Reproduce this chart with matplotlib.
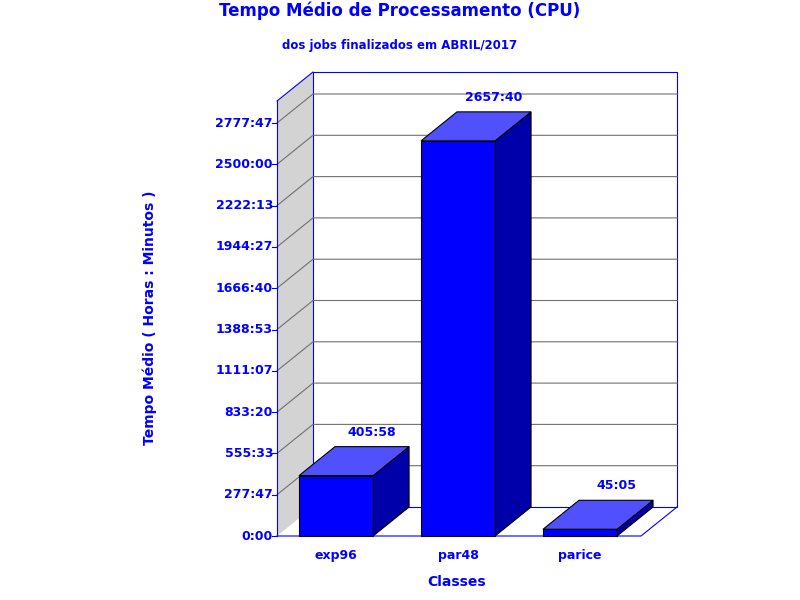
import matplotlib
matplotlib.use("Agg")
import matplotlib.pyplot as plt
from matplotlib.patches import Polygon
from matplotlib.transforms import IdentityTransform

categories = ["exp96", "par48", "parice"]
values_hours = [405 + 58/60, 2657 + 40/60, 45 + 5/60]
value_labels = ["405:58", "2657:40", "45:05"]
tick_values = [k * 1e6 / 3600 for k in range(11)]

def fmt(h):
    tot = round(h * 60)
    return f"{tot // 60}:{tot % 60:02d}"

BLUE = "#0000FF"
DX, DY = 36, 29
fig = plt.figure(figsize=(8, 6), dpi=100)
W, H = 800, 600
ax = fig.add_axes([277/W, (600-536)/H, (641-277)/W, (536-101)/H])
ax.set_xlim(-0.484, 2.5)
ax.set_ylim(0, 2925.8)
ax.axis("off")
I = IdentityTransform()

def disp(x, y):
    return ax.transData.transform((x, y))

def poly(pts, fc, ec, lw=0.8, z=1):
    fig.patches.append(Polygon(pts, closed=True, facecolor=fc, edgecolor=ec, lw=lw,
                               transform=I, zorder=z))

x0, x1 = ax.get_xlim()
y0, y1 = ax.get_ylim()
bl = disp(x0, y0); br = disp(x1, y0); tl = disp(x0, y1)
off = lambda p: (p[0] + DX, p[1] + DY)
# left wall
poly([bl, off(bl), off(tl), tl], "#d3d3d3", "none", z=1)
# back wall
poly([off(bl), off(br), (off(br)[0], off(tl)[1]), off(tl)], "white", BLUE, z=1)
# floor line
fig.lines.append(plt.Line2D([bl[0], br[0], off(br)[0]], [bl[1], br[1], off(br)[1]],
                            color=BLUE, lw=0.8, transform=I, zorder=2))
fig.lines.append(plt.Line2D([tl[0], off(tl)[0]], [tl[1], off(tl)[1]],
                            color=BLUE, lw=0.8, transform=I, zorder=2))
fig.lines.append(plt.Line2D([bl[0], tl[0]], [bl[1], tl[1]],
                            color=BLUE, lw=0.8, transform=I, zorder=2))
for t in tick_values:
    p = disp(x0, t)
    q = disp(x1, t)
    if t > 0:
        fig.lines.append(plt.Line2D([p[0], off(p)[0], off(q)[0]], [p[1], off(p)[1], off(q)[1]],
                                    color="#707070", lw=0.8, transform=I, zorder=1.5))
    fig.lines.append(plt.Line2D([p[0] - 5, p[0]], [p[1], p[1]], color=BLUE, lw=0.8,
                                transform=I, zorder=2))
    fig.text((p[0] - 4) / W, p[1] / H, fmt(t), ha="right", va="center", color=BLUE,
             fontsize=9, fontweight="bold")

w = 0.607
for i, (v, lab) in enumerate(zip(values_hours, value_labels)):
    a = disp(i - w/2, 0); b = disp(i + w/2, 0)
    c = disp(i + w/2, v); d = disp(i - w/2, v)
    poly([b, off(b), off(c), c], "#0000AA", "black", z=3)
    poly([d, c, off(c), off(d)], "#5050FF", "black", z=3)
    poly([a, b, c, d], BLUE, "black", z=4)
    mx = (d[0] + c[0]) / 2 + DX
    fig.text(mx / W, (c[1] + DY + 8) / H, lab, ha="center", va="bottom", color=BLUE,
             fontsize=9, fontweight="bold")
    fig.text(disp(i, 0)[0] / W, (600 - 556) / H, categories[i], ha="center", va="center",
             color=BLUE, fontsize=9, fontweight="bold")

fig.text(400/W, (600-11)/H, "Tempo Médio de Processamento (CPU)", ha="center", va="center",
         color=BLUE, fontsize=12, fontweight="bold")
fig.text(400/W, (600-45)/H, "dos jobs finalizados em ABRIL/2017", ha="center", va="center",
         color=BLUE, fontsize=8.5, fontweight="bold")
fig.text(150/W, (600-318)/H, "Tempo Médio ( Horas : Minutos )", ha="center", va="center",
         rotation=90, color=BLUE, fontsize=10, fontweight="bold")
fig.text(457/W, (600-582)/H, "Classes", ha="center", va="center", color=BLUE,
         fontsize=10, fontweight="bold")
fig.savefig("out.png", dpi=100)
